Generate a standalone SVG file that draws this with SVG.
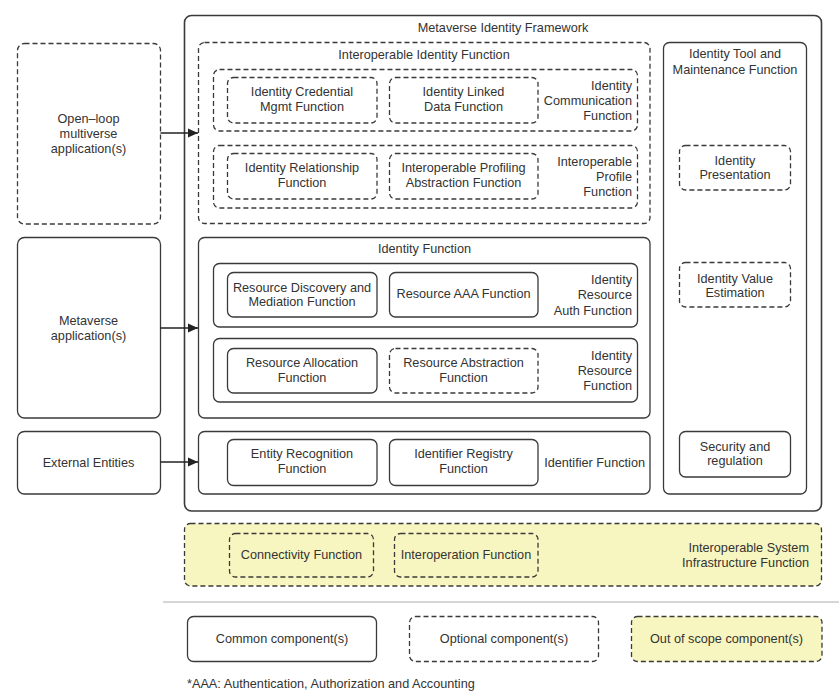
<svg xmlns="http://www.w3.org/2000/svg" width="839" height="697" viewBox="0 0 839 697">
<defs>
<style>
.s{fill:#fff;stroke:#3a3a3a;stroke-width:1.3}
.d{fill:#fff;stroke:#3a3a3a;stroke-width:1.3;stroke-dasharray:5 3}
.y{fill:#f8f6c0}
.o{fill:#fff;stroke:#3a3a3a;stroke-width:1.6}
text{font-family:"Liberation Sans",Arial,sans-serif;font-size:12.7px;fill:#333}
.c{text-anchor:middle}
.e{text-anchor:end}
.ln{stroke:#222;stroke-width:1.3;fill:none}
</style>
<marker id="ah" viewBox="0 0 10 10" refX="10" refY="5" markerWidth="10" markerHeight="10" markerUnits="userSpaceOnUse" orient="auto">
<path d="M0,0.5 L10,5 L0,9.5 Z" fill="#222"/>
</marker>
</defs>
<rect width="839" height="697" fill="#fff"/>

<g id="framework">
<rect class="o" x="184.5" y="15.5" width="637" height="495.5" rx="7"/>
<text class="c" x="503" y="31.5">Metaverse Identity Framework</text>
</g>

<g id="interop-identity">
<rect class="d" x="198.5" y="42.5" width="451.5" height="181" rx="6"/>
<text class="c" x="424" y="59">Interoperable Identity Function</text>
</g>

<g id="identity-comm">
<rect class="d" x="213.5" y="69.5" width="424" height="61.5" rx="6"/>
<text class="e" x="632" y="89.5">Identity</text>
<text class="e" x="632" y="104.5">Communication</text>
<text class="e" x="632" y="120">Function</text>
</g>
<g id="cred-mgmt">
<rect class="d" x="227.5" y="77.5" width="149.5" height="45.5" rx="6"/>
<text class="c" x="302" y="96">Identity Credential</text>
<text class="c" x="302" y="111">Mgmt Function</text>
</g>
<g id="linked-data">
<rect class="d" x="389.5" y="77.5" width="148.5" height="45.5" rx="6"/>
<text class="c" x="463.5" y="96">Identity Linked</text>
<text class="c" x="463.5" y="111">Data Function</text>
</g>

<g id="interop-profile">
<rect class="d" x="213.5" y="145.5" width="424" height="62.5" rx="6"/>
<text class="e" x="632" y="165.5">Interoperable</text>
<text class="e" x="632" y="180.5">Profile</text>
<text class="e" x="632" y="195.5">Function</text>
</g>
<g id="relationship">
<rect class="d" x="227.5" y="153.5" width="149.5" height="45.5" rx="6"/>
<text class="c" x="302" y="172">Identity Relationship</text>
<text class="c" x="302" y="187">Function</text>
</g>
<g id="profiling">
<rect class="d" x="389.5" y="153.5" width="148.5" height="45.5" rx="6"/>
<text class="c" x="463.5" y="172">Interoperable Profiling</text>
<text class="c" x="463.5" y="187">Abstraction Function</text>
</g>

<g id="identity-function">
<rect class="s" x="198.5" y="237.5" width="451.5" height="180.5" rx="6"/>
<text class="c" x="424.5" y="252.5">Identity Function</text>
</g>
<g id="resource-auth">
<rect class="s" x="213.5" y="263.5" width="424" height="63.5" rx="6"/>
<text class="e" x="632" y="283.5">Identity</text>
<text class="e" x="632" y="299">Resource</text>
<text class="e" x="632" y="314.5">Auth Function</text>
</g>
<g id="discovery">
<rect class="s" x="227.5" y="272.5" width="149.5" height="44.5" rx="6"/>
<text class="c" x="302" y="291.5">Resource Discovery and</text>
<text class="c" x="302" y="305.5">Mediation Function</text>
</g>
<g id="aaa">
<rect class="s" x="389.5" y="272.5" width="148.5" height="44.5" rx="6"/>
<text class="c" x="463.5" y="297.5">Resource AAA Function</text>
</g>
<g id="identity-resource">
<rect class="s" x="213.5" y="338.5" width="424" height="63.5" rx="6"/>
<text class="e" x="632" y="359.5">Identity</text>
<text class="e" x="632" y="374.5">Resource</text>
<text class="e" x="632" y="389.5">Function</text>
</g>
<g id="allocation">
<rect class="s" x="227.5" y="348.5" width="149.5" height="44.5" rx="6"/>
<text class="c" x="302" y="366.5">Resource Allocation</text>
<text class="c" x="302" y="381.5">Function</text>
</g>
<g id="abstraction">
<rect class="d" x="389.5" y="348.5" width="148.5" height="44.5" rx="6"/>
<text class="c" x="463.5" y="366.5">Resource Abstraction</text>
<text class="c" x="463.5" y="381.5">Function</text>
</g>

<g id="identifier-function">
<rect class="s" x="198.5" y="431.5" width="451.5" height="62.5" rx="6"/>
<text class="e" x="645" y="466.5">Identifier Function</text>
</g>
<g id="entity-recognition">
<rect class="s" x="227.5" y="439.5" width="149.5" height="46" rx="6"/>
<text class="c" x="302" y="457.5">Entity Recognition</text>
<text class="c" x="302" y="472.5">Function</text>
</g>
<g id="registry">
<rect class="s" x="389.5" y="439.5" width="148.5" height="46" rx="6"/>
<text class="c" x="463.5" y="457.5">Identifier Registry</text>
<text class="c" x="463.5" y="472.5">Function</text>
</g>

<g id="tool-maintenance">
<rect class="s" x="663.5" y="42.5" width="143" height="451.5" rx="6"/>
<text class="c" x="735" y="58">Identity Tool and</text>
<text class="c" x="735" y="74">Maintenance Function</text>
</g>
<g id="presentation">
<rect class="d" x="679.5" y="145.5" width="111" height="44.5" rx="6"/>
<text class="c" x="735" y="164.5">Identity</text>
<text class="c" x="735" y="179">Presentation</text>
</g>
<g id="value-estimation">
<rect class="d" x="679.5" y="262.5" width="111" height="44.5" rx="6"/>
<text class="c" x="735" y="282.5">Identity Value</text>
<text class="c" x="735" y="297">Estimation</text>
</g>
<g id="security">
<rect class="s" x="679.5" y="431.5" width="111" height="45.5" rx="6"/>
<text class="c" x="735" y="450.5">Security and</text>
<text class="c" x="735" y="465">regulation</text>
</g>

<g id="open-loop">
<rect class="d" x="17.5" y="43.5" width="143" height="180.5" rx="7"/>
<text class="c" x="88.5" y="122.5">Open–loop</text>
<text class="c" x="88.5" y="137.5">multiverse</text>
<text class="c" x="88.5" y="153">application(s)</text>
</g>
<g id="metaverse-app">
<rect class="s" x="17.5" y="237.5" width="143" height="180.5" rx="7"/>
<text class="c" x="88.5" y="324.5">Metaverse</text>
<text class="c" x="88.5" y="339.5">application(s)</text>
</g>
<g id="external">
<rect class="s" x="17.5" y="431.5" width="143" height="62.5" rx="7"/>
<text class="c" x="88.5" y="466.5">External Entities</text>
</g>

<g id="connectors">
<line class="ln" x1="160.5" y1="133" x2="198" y2="133" marker-end="url(#ah)"/>
<line class="ln" x1="160.5" y1="328" x2="198" y2="328" marker-end="url(#ah)"/>
<line class="ln" x1="160.5" y1="462" x2="198" y2="462" marker-end="url(#ah)"/>
</g>

<g id="infrastructure">
<rect class="d y" x="184.5" y="523.5" width="637" height="62.5" rx="6"/>
<text class="e" x="809" y="551.5">Interoperable System</text>
<text class="e" x="809" y="566.5">Infrastructure Function</text>
</g>
<g id="connectivity">
<rect class="d y" x="229.5" y="533.5" width="144" height="43.5" rx="6"/>
<text class="c" x="301.5" y="559">Connectivity Function</text>
</g>
<g id="interoperation">
<rect class="d y" x="394.5" y="533.5" width="143.5" height="43.5" rx="6"/>
<text class="c" x="466" y="559">Interoperation Function</text>
</g>

<line x1="163" y1="602" x2="839" y2="602" stroke="#c8c8c8" stroke-width="1.5"/>

<g id="legend-common">
<rect class="s" x="187.5" y="616.5" width="189" height="45" rx="6"/>
<text class="c" x="282" y="643">Common component(s)</text>
</g>
<g id="legend-optional">
<rect class="d" x="409.5" y="616.5" width="189" height="45" rx="6"/>
<text class="c" x="504" y="643">Optional component(s)</text>
</g>
<g id="legend-outofscope">
<rect class="d y" x="631.5" y="616.5" width="190.5" height="45" rx="6"/>
<text class="c" x="726.5" y="643">Out of scope component(s)</text>
</g>
<text x="187" y="688">*AAA: Authentication, Authorization and Accounting</text>
</svg>
